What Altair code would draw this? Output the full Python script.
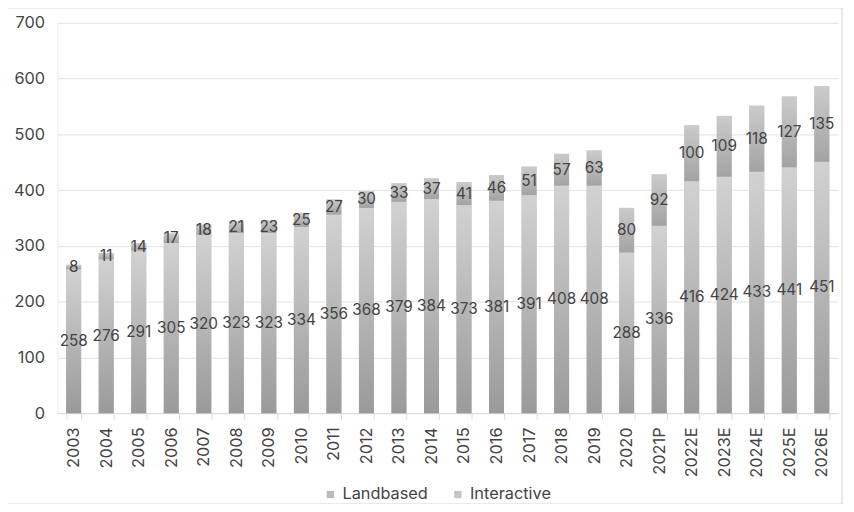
import altair as alt
import pandas as pd

years = ["2003", "2004", "2005", "2006", "2007", "2008", "2009", "2010", "2011", "2012",
         "2013", "2014", "2015", "2016", "2017", "2018", "2019", "2020", "2021P",
         "2022E", "2023E", "2024E", "2025E", "2026E"]
landbased = [258, 276, 291, 305, 320, 323, 323, 334, 356, 368, 379, 384, 373, 381, 391,
             408, 408, 288, 336, 416, 424, 433, 441, 451]
interactive = [8, 11, 14, 17, 18, 21, 23, 25, 27, 30, 33, 37, 41, 46, 51, 57, 63, 80, 92,
               100, 109, 118, 127, 135]
series = ["Landbased", "Interactive"]
y_ticks = [0, 100, 200, 300, 400, 500, 600, 700]

df = pd.DataFrame({"year": years, "land": landbased, "inter": interactive})
df["total"] = df["land"] + df["inter"]
df["land_mid"] = df["land"] / 2
df["inter_mid"] = df["land"] + df["inter"] / 2

long = pd.concat([
    pd.DataFrame({"year": years, "series": series[0], "start": 0, "end": landbased}),
    pd.DataFrame({"year": years, "series": series[1], "start": landbased, "end": df["total"]}),
])

FONT = "Inter"
TXT = "#444444"

x_enc = alt.X("year:N", sort=years, title=None,
              scale=alt.Scale(paddingInner=0.54, paddingOuter=0.27),
              axis=alt.Axis(labelAngle=-90, labelFontSize=16.5, labelColor=TXT, labelFont=FONT,
                            labelPadding=8, domainColor="#d9d9d9", tickColor="#d9d9d9",
                            ticks=True, tickSize=6, tickBand="extent", grid=False))
y_scale = alt.Scale(domain=[0, 700], nice=False)

legend_layer = alt.Chart(long).mark_bar().encode(
    x=x_enc,
    y=alt.Y("start:Q", scale=y_scale, title=None,
            axis=alt.Axis(values=y_ticks, labelFontSize=16.5, labelColor=TXT, labelFont=FONT,
                          labelPadding=13, domain=True, domainColor="#ececec", ticks=False,
                          gridColor="#e2e2e2")),
    y2="end:Q",
    color=alt.Color("series:N", sort=series,
                    scale=alt.Scale(domain=series, range=["#bababa", "#c4c4c4"]),
                    legend=alt.Legend(title=None, orient="none", legendX=268, legendY=469,
                                      direction="horizontal", symbolType="square",
                                      symbolSize=55, symbolStrokeWidth=0,
                                      labelFontSize=16.5, labelColor=TXT, labelFont=FONT,
                                      columnPadding=22, labelOffset=4)),
)

land_grad = alt.Gradient(gradient="linear",
                         stops=[alt.GradientStop(color="#d2d2d2", offset=0),
                                alt.GradientStop(color="#9a9a9a", offset=1)],
                         x1=0, x2=0, y1=0, y2=1)
inter_grad = alt.Gradient(gradient="linear",
                          stops=[alt.GradientStop(color="#cbcbcb", offset=0),
                                 alt.GradientStop(color="#a3a3a3", offset=1)],
                          x1=0, x2=0, y1=0, y2=1)

land_bars = alt.Chart(df).mark_bar(color=land_grad).encode(
    x=alt.X("year:N", sort=years), y=alt.Y("land:Q"), y2=alt.Y2(datum=0))
inter_bars = alt.Chart(df).mark_bar(color=inter_grad).encode(
    x=alt.X("year:N", sort=years), y=alt.Y("land:Q"), y2="total:Q")

land_text = alt.Chart(df).mark_text(fontSize=15.5, font=FONT, color=TXT).encode(
    x=alt.X("year:N", sort=years), y="land_mid:Q", text="land:Q")
inter_text = alt.Chart(df).mark_text(fontSize=15.5, font=FONT, color=TXT).encode(
    x=alt.X("year:N", sort=years), y="inter_mid:Q", text="inter:Q")

frame = alt.Chart(pd.DataFrame({"f": [0]})).mark_rect(
    fill="transparent", stroke="#e3e3e3", strokeWidth=1.5).encode(
    x=alt.value(-53), x2=alt.value(794), y=alt.value(-15), y2=alt.value(92 + 395))

chart = alt.layer(legend_layer, land_bars, inter_bars, land_text, inter_text, frame).properties(
    width=790, height=395,
    padding={"left": 50, "top": 12, "right": 8, "bottom": 89},
    autosize=alt.AutoSizeParams(type="none"),
    background="white",
).configure_view(stroke=None)

chart.save("out.html", embed_options={"renderer": "svg", "actions": False})
